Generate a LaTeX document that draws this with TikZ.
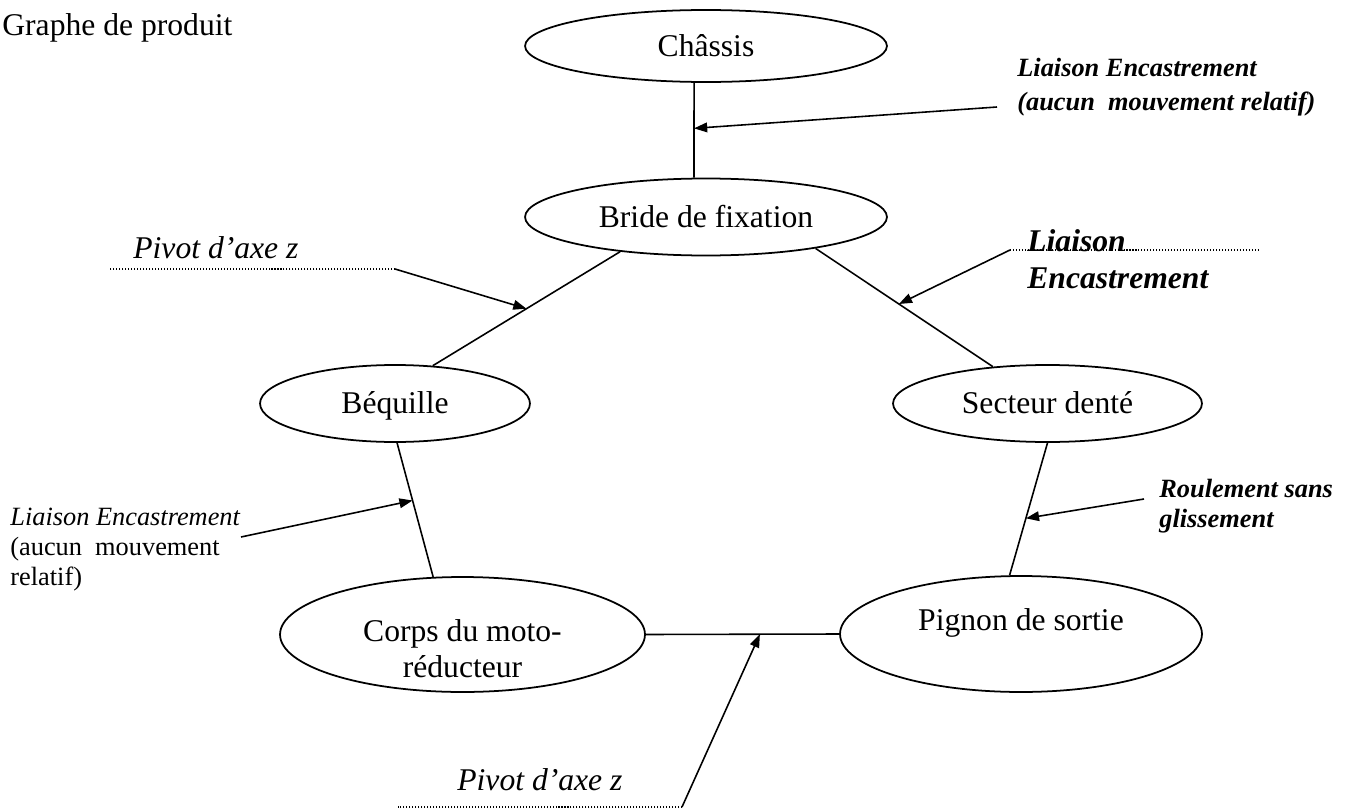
\documentclass[tikz,border=0pt]{standalone}
\usepackage{fontspec}
\setmainfont{Liberation Serif}
\usetikzlibrary{shapes.geometric,arrows.meta}

\begin{document}
\begin{tikzpicture}[x=0.02cm,y=-0.02cm,
  font=\fontsize{18}{20.5}\selectfont,
  piece/.style={draw,ellipse,line width=1pt,inner sep=0pt},
  inlbl/.style={text height=12.6pt,text depth=4pt,yshift=-1.5pt},
  link/.style={line width=0.9pt},
  callout/.style={line width=0.9pt,-{Triangle[length=7.5pt,width=5.5pt]}},
  leader/.style={line width=0.6pt,dash pattern=on 0.6pt off 1.1pt},
  note/.style={inner sep=0pt,anchor=base west,align=left},
  big/.style={font=\fontsize{18}{20.5}\selectfont\itshape},
  bigbold/.style={font=\fontsize{18}{20.5}\selectfont\bfseries\itshape},
  small/.style={font=\fontsize{15}{17}\selectfont},
  smallbold/.style={font=\fontsize{15}{17}\selectfont\bfseries\itshape}]
\useasboundingbox (0,0) rectangle (1353,808);

\node[note] (titre) at (2,35) {Graphe de produit};

% pieces du graphe
\node[piece,minimum width=7.24cm,minimum height=1.44cm,label={[inlbl]center:Châssis}] (chassis) at (706,46) {};
\node[piece,minimum width=7.24cm,minimum height=1.54cm,label={[inlbl]center:Bride de fixation}] (bride) at (706,217) {};
\node[piece,minimum width=5.4cm,minimum height=1.54cm,label={[inlbl]center:Béquille}] (bequille) at (395,403.5) {};
\node[piece,minimum width=6.18cm,minimum height=1.54cm,label={[inlbl]center:Secteur denté}] (secteur) at (1047.5,403.5) {};
\node[piece,minimum width=7.3cm,minimum height=2.3cm,
  label={[align=center,yshift=-8pt]center:{Corps du moto-\\réducteur}}] (corps) at (462.5,634.5) {};
\node[piece,minimum width=7.24cm,minimum height=2.32cm,
  label={[inlbl,yshift=8pt]center:Pignon de sortie}] (pignon) at (1021,634) {};

% liaisons
\draw[link] (chassis.-108) -- coordinate[pos=.48] (c1) (bride.107);
\draw[link] (bride.-158) -- coordinate[pos=.5] (c2) (bequille.45);
\draw[link] (bride.-16) -- coordinate[pos=.47] (c3) (secteur.146);
\draw[link] (bequille.-87) -- coordinate[pos=.43] (c4) (corps.117);
\draw[link] (secteur.-90) -- coordinate[pos=.57] (c5) (pignon.101);
\draw[link] (corps.east) -- coordinate[pos=.59] (c6) (pignon.west);

% annotations (base = derniere ligne)
\coordinate (t1) at (997,107);
\node[note,smallbold,font=\fontsize{15}{19.3}\selectfont\bfseries\itshape] (enc1) at (1017,110) {Liaison Encastrement\\(aucun\ \ mouvement relatif)};
\draw[callout] (t1) -- (c1);

\coordinate (t2) at (395,269);
\node[note,big] (piv1) at (133,258) {Pivot d’axe z};
\draw[leader] (t2) -- ++(-285,0);
\draw[callout] (t2) -- (c2);

\coordinate (t3) at (1010,250);
\node[note,bigbold] (enc2) at (1027,288) {Liaison\\Encastrement};
\draw[leader] (t3) -- ++(248,0);
\draw[callout] (t3) -- (c3);

\coordinate (t4) at (241,537);
\node[note,small] (enc3) at (10,585) {\textit{Liaison Encastrement}\\(aucun\ \ mouvement\\relatif)};
\draw[callout] (t4) -- (c4);

\coordinate (t5) at (1144,499);
\node[note,smallbold] (roul) at (1159,527) {Roulement sans\\glissement};
\draw[callout] (t5) -- (c5);

\coordinate (t6) at (682,807);
\node[note,big] (piv2) at (457,790) {Pivot d’axe z};
\draw[leader] (t6) -- ++(-284,0);
\draw[callout] (t6) -- (c6);
\end{tikzpicture}
\end{document}
